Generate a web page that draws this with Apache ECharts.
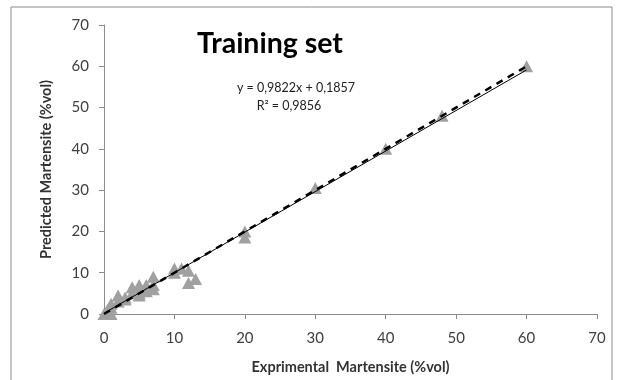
<!DOCTYPE html>
<html><head><meta charset="utf-8">
<script src="https://cdn.jsdelivr.net/npm/echarts@6/dist/echarts.min.js"></script>
<style>html,body{margin:0;padding:0;background:#fff}#c{width:617px;height:380px}</style>
</head><body><div id="c"></div>
<script>
const expX = [0, 0.5, 1, 0.5, 1, 1, 2, 2, 3, 3, 4, 4, 5, 5, 5, 6, 6, 7, 7, 7, 10, 10, 11, 12, 12, 13, 20, 20, 30, 40, 48, 60];
const predY = [0, 0.5, 0, 1, 1.5, 2.5, 3, 4.5, 3.5, 4, 5, 6.5, 4.5, 5, 7, 5.5, 7, 6, 7, 9, 10, 11, 11, 10.5, 7.5, 8.5, 18.5, 20, 30.5, 40, 48, 60];
const fitLine = [[0, 0.1857], [60, 0.9822 * 60 + 0.1857]];
const idealLine = [[0, 0], [60, 60]];
const axisTicks = [0, 10, 20, 30, 40, 50, 60, 70];
const titleText = 'Training set';
const eqText = 'y = 0,9822x + 0,1857';
const r2Text = 'R² = 0,9856';

const pts = expX.map((x, i) => [x, predY[i]]);
const chart = echarts.init(document.getElementById('c'));
const FONT = 'Lato';
const axisCommon = {
  min: axisTicks[0], max: axisTicks[axisTicks.length - 1], interval: 10,
  splitLine: { show: false },
  axisLine: { lineStyle: { color: '#8c8c8c', width: 1 } },
  axisTick: { show: true, length: 5, lineStyle: { color: '#8c8c8c' } },
  axisLabel: { color: '#404040', fontSize: 15, fontFamily: FONT },
  nameTextStyle: { color: '#333', fontSize: 14.5, fontWeight: 'bold', fontFamily: FONT }
};
chart.setOption({
  animation: false,
  grid: { left: 104, right: 20, top: 25, bottom: 63 },
  graphic: [
    { type: 'rect', shape: { x: 11, y: 7, width: 601, height: 400 }, style: { fill: 'none', stroke: '#8a8a8a', lineWidth: 1 }, z: -1 },
    { type: 'text', left: 197, top: 29, style: { text: titleText, font: 'bold 28.5px Lato', fill: '#000' } },
    { type: 'text', x: 296, y: 88, style: { text: eqText, font: '12.5px Lato', fill: '#222', align: 'center', verticalAlign: 'middle' } },
    { type: 'text', x: 289, y: 106, style: { text: r2Text, font: '12.5px Lato', fill: '#222', align: 'center', verticalAlign: 'middle' } }
  ],
  xAxis: Object.assign({}, axisCommon, {
    type: 'value', name: 'Exprimental  Martensite (%vol)', nameLocation: 'middle', nameGap: 46,
    axisLabel: Object.assign({}, axisCommon.axisLabel, { margin: 17 })
  }),
  yAxis: Object.assign({}, axisCommon, {
    type: 'value', name: 'Predicted Martensite (%vol)', nameLocation: 'middle', nameGap: 50,
    axisLabel: Object.assign({}, axisCommon.axisLabel, { margin: 15 })
  }),
  series: [
    { type: 'scatter', data: pts, symbol: 'triangle', symbolSize: [13, 12],
      itemStyle: { color: '#a0a0a0', opacity: 1 }, z: 2 },
    { type: 'line', data: fitLine, symbol: 'none', lineStyle: { color: '#000', width: 1 }, z: 3 },
    { type: 'line', data: idealLine, symbol: 'none', lineStyle: { color: '#000', width: 2.5, type: [7, 6] }, z: 4 }
  ]
});
</script></body></html>
